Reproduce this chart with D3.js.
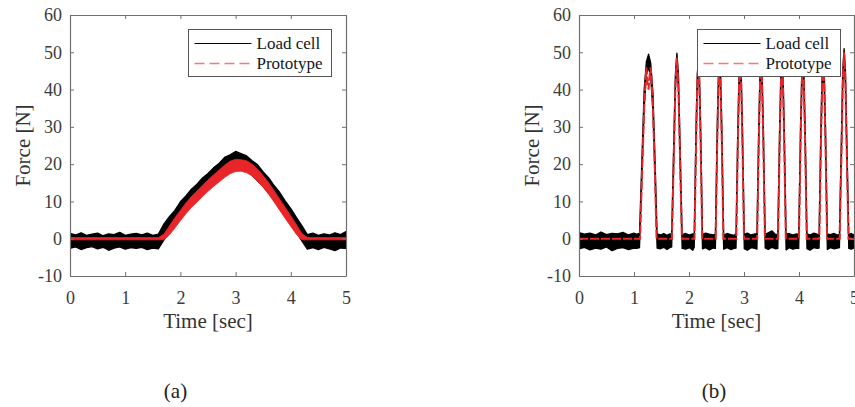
<!DOCTYPE html>
<html>
<head>
<meta charset="utf-8">
<script src="https://cdn.jsdelivr.net/npm/d3@7"></script>
<style>
  body { margin: 0; background: #fff; }
  svg { display: block; }
</style>
</head>
<body>
<div id="graph"></div>
<script>
// ---- panel (a): one slow push ----
var timeA = [0.0,0.1,0.2,0.3,0.4,0.5,0.6,0.7,0.8,0.9,1.0,1.1,1.2,1.3,1.4,1.5,1.6,
  1.7,1.8,1.9,2.0,2.1,2.2,2.3,2.4,2.5,2.6,2.7,2.8,2.9,3.0,3.1,3.2,3.3,3.4,3.5,3.6,3.7,3.8,3.9,4.0,4.1,4.2,
  4.3,4.4,4.5,4.6,4.7,4.8,4.9,5.0];
// load cell noise band (upper / lower edge)
var loadHiA = [1.4,1.0,1.6,0.9,1.2,1.5,0.8,1.3,1.1,1.7,0.9,1.2,1.4,1.0,1.5,0.9,1.2,
  3.9,5.9,7.6,9.9,11.5,13.3,14.6,16.3,17.5,19.0,20.2,21.8,22.5,23.4,22.8,22.2,20.9,19.8,17.9,16.3,14.2,12.4,10.1,8.1,5.7,3.5,
  1.1,1.5,0.9,1.3,1.0,1.6,1.1,1.9];
var loadLoA = [-2.6,-2.2,-2.9,-2.4,-2.1,-2.7,-2.3,-3.1,-2.5,-2.2,-2.8,-2.4,-2.6,-2.3,-2.9,-2.5,-2.7,
  -0.4,1.7,3.7,5.8,7.4,9.2,10.6,12.3,13.6,15.0,16.3,17.7,18.6,19.3,19.0,18.1,17.0,15.5,14.0,12.2,10.2,8.3,6.2,3.9,1.7,-0.6,
  -2.8,-2.4,-2.9,-2.3,-2.7,-3.2,-2.5,-2.6];
// prototype band
var protoHiA = [0.3,0.3,0.3,0.3,0.3,0.3,0.3,0.3,0.3,0.3,0.3,0.3,0.3,0.3,0.3,0.3,0.3,
  1.2,3.4,5.6,7.6,9.6,11.3,12.8,14.3,15.8,17.1,18.4,19.7,20.8,21.3,21.2,20.9,20.0,18.6,16.9,15.0,12.8,10.6,8.4,6.1,3.8,1.4,
  0.3,0.3,0.3,0.3,0.3,0.3,0.3,0.3];
var protoLoA = [-0.3,-0.3,-0.3,-0.3,-0.3,-0.3,-0.3,-0.3,-0.3,-0.3,-0.3,-0.3,-0.3,-0.3,-0.3,-0.3,-0.3,
  -0.3,1.0,2.9,4.8,6.7,8.4,9.8,11.3,12.7,14.0,15.2,16.4,17.4,18.0,18.1,17.7,16.8,15.4,13.8,11.9,9.8,7.6,5.4,3.3,1.2,-0.3,
  -0.3,-0.3,-0.3,-0.3,-0.3,-0.3,-0.3,-0.3];

// ---- panel (b): ten quick taps ----
var timeB = [0.0,0.1,0.2,0.3,0.4,0.5,0.6,0.7,0.8,0.9,1.0,1.05,
  1.10,1.145,1.185,1.225,1.265,1.305,1.345,1.385,1.42,
  1.48,1.54,1.60,1.65,
  1.685,1.72,1.752,1.78,1.808,1.84,1.875,
  1.94,2.01,2.07,
  2.095,2.128,2.15,2.17,2.19,2.212,2.245,
  2.30,2.37,2.44,
  2.48,2.513,2.535,2.555,2.575,2.597,2.63,
  2.69,2.76,2.82,
  2.855,2.888,2.91,2.93,2.95,2.972,3.005,
  3.06,3.13,3.20,
  3.235,3.268,3.29,3.31,3.33,3.352,3.385,
  3.44,3.51,3.58,
  3.615,3.648,3.67,3.69,3.71,3.732,3.765,
  3.82,3.89,3.96,
  3.995,4.028,4.05,4.07,4.09,4.112,4.145,
  4.20,4.27,4.33,
  4.365,4.398,4.42,4.44,4.46,4.482,4.515,
  4.57,4.64,4.70,
  4.735,4.772,4.795,4.82,4.845,4.868,4.905,
  4.95,5.0];
var loadHiB = [1.6,1.2,1.5,1.0,1.8,1.1,1.4,1.3,1.7,1.0,1.5,1.2,
  1.4,22,40,47.5,49.5,47,39,20,1.3,
  1.0,1.4,0.9,1.3,
  1.2,24,44,49.8,44,24,1.1,
  1.4,1.0,1.3,
  1.2,30,44,47.5,44,30,1.1,
  1.5,1.2,1.0,
  1.3,30,44,47.5,44,30,1.0,
  1.4,1.1,0.9,
  1.3,30,44,47.5,44,30,1.2,
  1.5,1.0,1.3,
  1.2,30,44,47.5,44,30,1.1,
  1.6,2.1,1.0,
  1.3,30,44,47.5,44,30,1.2,
  1.4,1.0,1.3,
  1.1,30,44,47.5,44,30,1.4,
  1.0,1.5,1.2,
  1.0,30,44,47.5,44,30,1.3,
  1.1,1.4,1.0,
  1.2,28,45,51,45,28,1.1,
  1.4,1.0];
var loadLoB = [-2.7,-2.3,-3.0,-2.5,-2.8,-2.2,-3.2,-2.6,-2.4,-2.9,-2.5,-2.6,
  -2.4,17,35,44,46,43,34,15,-2.5,
  -2.7,-2.3,-2.9,-2.4,
  -2.2,19,40,47,40,19,-2.6,
  -2.8,-2.4,-3.1,
  -2.3,25,40,45,40,25,-2.7,
  -2.4,-3.0,-2.5,
  -2.6,25,40,45,40,25,-2.8,
  -2.4,-2.9,-2.6,
  -2.5,25,40,45,40,25,-2.7,
  -3.1,-2.4,-2.6,
  -2.8,25,40,45,40,25,-2.5,
  -2.9,-2.3,-2.7,
  -2.6,25,40,45,40,25,-3.0,
  -2.4,-2.8,-2.5,
  -2.6,25,40,45,40,25,-2.7,
  -3.1,-2.4,-2.6,
  -2.5,25,40,45,40,25,-2.9,
  -2.4,-2.7,-2.5,
  -2.4,23,41,48,41,23,-2.6,
  -2.8,-2.5];
var timePB = [0.0,
  1.11,1.15,1.19,1.225,1.245,1.265,1.285,1.305,1.34,1.38,1.41,
  1.69,1.722,1.755,1.78,1.805,1.838,1.87,
  2.10,2.13,2.152,2.17,2.188,2.21,2.24,
  2.485,2.515,2.537,2.555,2.573,2.595,2.625,
  2.86,2.89,2.912,2.93,2.948,2.97,3.0,
  3.24,3.27,3.292,3.31,3.328,3.35,3.38,
  3.62,3.65,3.672,3.69,3.708,3.73,3.76,
  4.0,4.03,4.052,4.07,4.088,4.11,4.14,
  4.37,4.40,4.422,4.44,4.458,4.48,4.51,
  4.74,4.775,4.798,4.82,4.842,4.865,4.90,
  5.0];
var protoB = [0,
  0,19,37,46,42,40,44,46,37,18,0,
  0,21,42,48.5,42,21,0,
  0,27,42,46.5,42,27,0,
  0,27,42,46.5,42,27,0,
  0,27,42,46.5,42,27,0,
  0,27,42,46.5,42,27,0,
  0,27,42,46.5,42,27,0,
  0,27,42,46.5,42,27,0,
  0,27,42,46.5,42,27,0,
  0,25,43,50,43,25,0,
  0];

var xTicks = [0, 1, 2, 3, 4, 5];
var yTicks = [-10, 0, 10, 20, 30, 40, 50, 60];
var legendLabels = ["Load cell", "Prototype"];
var captions = ["(a)", "(b)"];

var w = 855, h = 407;
var top_y = 15, bottom_y = 276;
var font = "'Liberation Serif', 'Times New Roman', serif";
var axisColor = "#707070";
var red = "#e8262a";

var svg = d3.select("#graph")
    .append("svg")
    .attr("width", w)
    .attr("height", h);

var yScale = d3.scaleLinear().domain([-10, 60]).range([bottom_y, top_y]);

// plain hyphen for negatives, like the original figure
var plainFormat = function(d) { return String(d); };

function zip(t, a, b) {
  return t.map(function(d, i) { return { t: d, lo: a[i], hi: b ? b[i] : a[i] }; });
}

function drawPanel(idx, left, right, captionX, load, proto, protoIsBand) {
  var xScale = d3.scaleLinear().domain([0, 5]).range([left, right]);
  var g = svg.append("g");

  // clip data to the axes box
  var clipId = "clip" + idx;
  g.append("clipPath").attr("id", clipId)
    .append("rect")
    .attr("x", left).attr("y", top_y)
    .attr("width", right - left).attr("height", bottom_y - top_y);

  var data = g.append("g").attr("clip-path", "url(#" + clipId + ")");

  var band = d3.area()
      .x(function(d) { return xScale(d.t); })
      .y0(function(d) { return yScale(d.lo); })
      .y1(function(d) { return yScale(d.hi); });

  // load cell (black, noisy)
  data.append("path")
      .datum(load)
      .attr("d", band)
      .attr("fill", "#000")
      .attr("stroke", "#000")
      .attr("stroke-width", 1.3)
      .attr("stroke-linejoin", "round");

  // prototype (red)
  if (protoIsBand) {
    data.append("path")
        .datum(proto)
        .attr("d", band)
        .attr("fill", red)
        .attr("stroke", red)
        .attr("stroke-width", 0.8);
  } else {
    var line = d3.line()
        .x(function(d) { return xScale(d.t); })
        .y(function(d) { return yScale(d.hi); });
    data.append("path")
        .datum(proto)
        .attr("d", line)
        .attr("fill", "none")
        .attr("stroke", red)
        .attr("stroke-width", 2)
        .attr("stroke-dasharray", "9,2");
  }

  // legend
  var lx = left + 118.5, ly = 29.5;
  var leg = g.append("g");
  leg.append("rect")
      .attr("x", lx).attr("y", ly)
      .attr("width", 143).attr("height", 47)
      .attr("fill", "#fff")
      .attr("stroke", "#555")
      .attr("stroke-width", 1);
  leg.append("line")
      .attr("x1", lx + 6).attr("x2", lx + 63)
      .attr("y1", ly + 14).attr("y2", ly + 14)
      .attr("stroke", "#000").attr("stroke-width", 1.2);
  leg.append("line")
      .attr("x1", lx + 6).attr("x2", lx + 63)
      .attr("y1", ly + 34).attr("y2", ly + 34)
      .attr("stroke", "#ff7474").attr("stroke-width", 1.6)
      .attr("stroke-dasharray", "10,5");
  leg.selectAll("text")
      .data(legendLabels)
      .enter().append("text")
      .attr("x", lx + 68)
      .attr("y", function(d, i) { return ly + 14 + i * 20; })
      .attr("dy", "0.35em")
      .attr("font-family", font)
      .attr("font-size", "17px")
      .attr("fill", "#141824")
      .text(function(d) { return d; });

  // axes, ticks pointing inward on all four sides
  var xAxis = d3.axisBottom(xScale).tickValues(xTicks).tickFormat(plainFormat)
      .tickSizeInner(-4).tickSizeOuter(0).tickPadding(15);
  var yAxis = d3.axisLeft(yScale).tickValues(yTicks).tickFormat(plainFormat)
      .tickSizeInner(-4).tickSizeOuter(0).tickPadding(8);
  var xTop = d3.axisTop(xScale).tickValues(xTicks).tickSizeInner(-4).tickSizeOuter(0).tickFormat("");
  var yRight = d3.axisRight(yScale).tickValues(yTicks).tickSizeInner(-4).tickSizeOuter(0).tickFormat("");

  var axes = [
    g.append("g").attr("transform", "translate(0," + bottom_y + ")").call(xAxis),
    g.append("g").attr("transform", "translate(" + left + ",0)").call(yAxis),
    g.append("g").attr("transform", "translate(0," + top_y + ")").call(xTop),
    g.append("g").attr("transform", "translate(" + right + ",0)").call(yRight)
  ];
  axes.forEach(function(a) {
    a.select(".domain").attr("stroke", axisColor).attr("stroke-width", 1.2);
    a.selectAll(".tick line").attr("stroke", axisColor);
    a.selectAll(".tick text")
      .attr("font-family", font)
      .attr("font-size", "18px")
      .attr("fill", "#3c3c3c");
  });

  // axis titles
  g.append("text")
      .attr("x", (left + right) / 2)
      .attr("y", 328)
      .attr("text-anchor", "middle")
      .attr("font-family", font)
      .attr("font-size", "21px")
      .attr("fill", "#333")
      .text("Time [sec]");

  g.append("text")
      .attr("transform", "translate(" + (left - 40) + "," + ((top_y + bottom_y) / 2) + ") rotate(-90)")
      .attr("text-anchor", "middle")
      .attr("font-family", font)
      .attr("font-size", "21px")
      .attr("fill", "#333")
      .text("Force [N]");

  // caption
  g.append("text")
      .attr("x", captionX)
      .attr("y", 398)
      .attr("text-anchor", "middle")
      .attr("font-family", font)
      .attr("font-size", "21px")
      .attr("fill", "#222")
      .text(captions[idx]);
}

drawPanel(0, 70, 346, 175.5, zip(timeA, loadLoA, loadHiA), zip(timeA, protoLoA, protoHiA), true);
drawPanel(1, 579, 854, 714, zip(timeB, loadLoB, loadHiB), zip(timePB, protoB), false);
</script>
</body>
</html>
